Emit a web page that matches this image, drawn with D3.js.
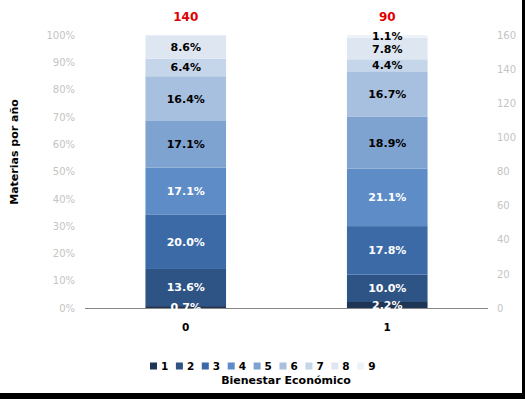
<!DOCTYPE html>
<html>
<head>
<meta charset="utf-8">
<script src="https://cdn.jsdelivr.net/npm/d3@7"></script>
<style>
	body { margin: 0; background: #fff; }
	svg { display: block; font-family: "DejaVu Sans", Verdana, sans-serif; }
</style>
</head>
<body>
<script>
// categories on the x axis (Bienestar Económico)
const groups = ["0", "1"];
// stack keys (legend entries)
const levels = ["1", "2", "3", "4", "5", "6", "7", "8", "9"];
// percentage of each level, one array per group
const shares0 = [0.7, 13.6, 20.0, 17.1, 17.1, 16.4, 6.4, 8.6, 0];
const shares1 = [2.2, 10.0, 17.8, 21.1, 18.9, 16.7, 4.4, 7.8, 1.1];
// totals shown in red above each bar (secondary axis)
const totals = [140, 90];
const leftTicks = [0, 10, 20, 30, 40, 50, 60, 70, 80, 90, 100];
const rightTicks = [0, 20, 40, 60, 80, 100, 120, 140, 160];

const palette = [
	"#1f3556", // navy
	"#2e5486",
	"#3b6aa7",
	"#5d8cc7",
	"#7fa3d1",
	"#a8c0e0",
	"#c5d5ea",
	"#dee6f2",
	"#eef2f9",
];

const svgWidth = 525;
const svgHeight = 399;
const plot = { left: 85, right: 488, top: 35, bottom: 308 };

const svg = d3
	.select("body")
	.append("svg")
	.attr("width", svgWidth)
	.attr("height", svgHeight)
	.attr("viewBox", `0 0 ${svgWidth} ${svgHeight}`);

const rows = groups.map((g, i) => {
	const row = { group: g };
	const vals = i === 0 ? shares0 : shares1;
	levels.forEach((k, j) => (row[k] = vals[j]));
	return row;
});

const stacked = d3.stack().keys(levels)(rows);

const xScale = d3
	.scaleBand()
	.domain(groups)
	.range([plot.left, plot.right])
	.paddingInner(0.6)
	.paddingOuter(0.3);

const yScale = d3.scaleLinear().domain([0, 100]).range([plot.bottom, plot.top]);
const y2Scale = d3.scaleLinear().domain([0, 160]).range([plot.bottom, plot.top]);

const colorScale = d3.scaleOrdinal().domain(levels).range(palette);

// left axis (percent)
const leftAxis = svg
	.append("g")
	.attr("transform", `translate(${plot.left} 0)`)
	.call(
		d3.axisLeft(yScale).tickValues(leftTicks).tickSize(0).tickPadding(10)
			.tickFormat((d) => d + "%")
	);
leftAxis.select(".domain").remove();
leftAxis.selectAll("text").attr("fill", "#c4c4c4").style("font-size", "10px")
	.style("font-family", "\"DejaVu Sans\", sans-serif");

// right axis (count)
const rightAxis = svg
	.append("g")
	.attr("transform", `translate(${plot.right} 0)`)
	.call(d3.axisRight(y2Scale).tickValues(rightTicks).tickSize(0).tickPadding(9));
rightAxis.select(".domain").remove();
rightAxis.selectAll("text").attr("fill", "#c4c4c4").style("font-size", "10px")
	.style("font-family", "\"DejaVu Sans\", sans-serif");

// bars
const layers = svg
	.append("g")
	.selectAll("g")
	.data(stacked)
	.join("g")
	.attr("fill", (d) => colorScale(d.key));

layers
	.selectAll("rect")
	.data((d) => d)
	.join("rect")
	.attr("x", (d) => xScale(d.data.group))
	.attr("width", xScale.bandwidth())
	.attr("y", (d) => yScale(d[1]))
	.attr("height", (d) => yScale(d[0]) - yScale(d[1]));

// x axis line
svg
	.append("line")
	.attr("x1", plot.left)
	.attr("x2", plot.right)
	.attr("y1", plot.bottom + 0.5)
	.attr("y2", plot.bottom + 0.5)
	.attr("stroke", "#868686")
	.attr("stroke-width", 1);

// segment labels
stacked.forEach((layer, li) => {
	layer.forEach((d) => {
		const v = d[1] - d[0];
		if (v <= 0) return;
		svg
			.append("text")
			.attr("x", xScale(d.data.group) + xScale.bandwidth() / 2)
			.attr("y", (yScale(d[0]) + yScale(d[1])) / 2)
			.attr("dy", "0.36em")
			.attr("text-anchor", "middle")
			.attr("font-size", "11px")
			.attr("font-weight", "bold")
			.attr("fill", li < 4 ? "#ffffff" : "#000000")
			.text(v.toFixed(1) + "%");
	});
});

// totals in red
groups.forEach((g, i) => {
	svg
		.append("text")
		.attr("x", xScale(g) + xScale.bandwidth() / 2)
		.attr("y", 17)
		.attr("dy", "0.36em")
		.attr("text-anchor", "middle")
		.attr("font-size", "12px")
		.attr("font-weight", "bold")
		.attr("fill", "#e00000")
		.text(totals[i]);
});

// category labels
groups.forEach((g) => {
	svg
		.append("text")
		.attr("x", xScale(g) + xScale.bandwidth() / 2)
		.attr("y", 327)
		.attr("dy", "0.36em")
		.attr("text-anchor", "middle")
		.attr("font-size", "10.5px")
		.attr("font-weight", "bold")
		.text(g);
});

// y title
svg
	.append("text")
	.attr("transform", "translate(14 152) rotate(-90)")
	.attr("dy", "0.36em")
	.attr("text-anchor", "middle")
	.attr("font-size", "11px")
	.attr("font-weight", "bold")
	.text("Materias por año");

// legend
const legend = svg.append("g").attr("transform", "translate(150 366)");
levels.forEach((k, i) => {
	const item = legend.append("g").attr("transform", `translate(${i * 25.9} 0)`);
	item
		.append("rect")
		.attr("x", 0)
		.attr("y", -3.5)
		.attr("width", 7)
		.attr("height", 7)
		.attr("fill", colorScale(k));
	item
		.append("text")
		.attr("x", 11)
		.attr("y", 0)
		.attr("dy", "0.36em")
		.attr("font-size", "10.5px")
		.attr("font-weight", "bold")
		.text(k);
});

// x title
svg
	.append("text")
	.attr("x", 286)
	.attr("y", 380)
	.attr("dy", "0.36em")
	.attr("text-anchor", "middle")
	.attr("font-size", "11px")
	.attr("font-weight", "bold")
	.text("Bienestar Económico");

// frame edges (right and bottom)
svg.append("rect").attr("x", 522).attr("y", 0).attr("width", 3).attr("height", svgHeight).attr("fill", "#000");
svg.append("rect").attr("x", 0).attr("y", 393).attr("width", svgWidth).attr("height", 6).attr("fill", "#000");
</script>
</body>
</html>
